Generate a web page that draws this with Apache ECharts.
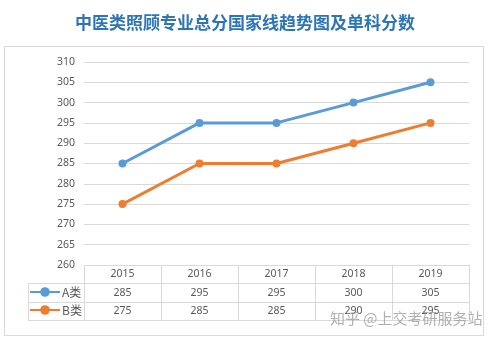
<!DOCTYPE html>
<html>
<head>
<meta charset="utf-8">
<script src="https://cdn.jsdelivr.net/npm/echarts@6/dist/echarts.min.js"></script>
<style>
  html, body { margin: 0; padding: 0; background: #fff; }
  #chart { width: 490px; height: 338px; }
</style>
</head>
<body>
<div id="chart"></div>
<script>
// Score lines by year
const years = ['2015', '2016', '2017', '2018', '2019'];
const seriesA = [285, 295, 295, 300, 305];
const seriesB = [275, 285, 285, 290, 295];
const nameA = 'A类';
const nameB = 'B类';
const titleText = '中医类照顾专业总分国家线趋势图及单科分数';
const watermark = '知乎 @上交考研服务站';

const gridColor = '#d9d9d9';
const textColor = '#595959';
const blue = '#5B9BD5';
const orange = '#ED7D31';

const chart = echarts.init(document.getElementById('chart'), null, { renderer: 'canvas' });

const gridLeft = 84, gridRight = 469, gridTop = 62, gridBottom = 265;
const rowA = 283, rowB = 302, rowEnd = 320, legendLeft = 28;

const option = {
  animation: false,
  backgroundColor: '#fff',
  title: {
    text: titleText,
    left: 'center',
    top: 9,
    textStyle: { color: '#2E75B6', fontSize: 17, fontWeight: 'bold', fontFamily: 'Noto Sans CJK SC' }
  },
  grid: { left: gridLeft, right: 490 - gridRight, top: gridTop, bottom: 338 - gridBottom, containLabel: false },
  legend: {
    orient: 'vertical',
    left: legendLeft + 1,
    top: rowA + 3,
    padding: 0,
    itemGap: 6,
    itemWidth: 30,
    itemHeight: 12,
    textStyle: { color: textColor, fontSize: 12, fontFamily: 'Noto Sans CJK SC', padding: [0, 0, 0, -3] },
    data: [nameA, nameB]
  },
  xAxis: {
    type: 'category',
    data: years,
    boundaryGap: true,
    axisLine: { show: true, lineStyle: { color: gridColor } },
    axisTick: { show: true, length: rowEnd - gridBottom, lineStyle: { color: gridColor } },
    axisLabel: {
      margin: 0,
      interval: 0,
      formatter: function (v, i) {
        return '{y|' + v + '}\n{a|' + seriesA[i] + '}\n{b|' + seriesB[i] + '}';
      },
      rich: {
        y: { color: textColor, fontSize: 10.5, lineHeight: 18.5, fontFamily: 'Noto Sans' },
        a: { color: textColor, fontSize: 10.5, lineHeight: 18.5, fontFamily: 'Noto Sans' },
        b: { color: textColor, fontSize: 10.5, lineHeight: 18.5, fontFamily: 'Noto Sans' }
      }
    }
  },
  yAxis: {
    type: 'value',
    min: 260,
    max: 310,
    interval: 5,
    axisLine: { show: false },
    axisTick: { show: false },
    axisLabel: { color: textColor, fontSize: 10.5, margin: 9, fontFamily: 'Noto Sans' },
    splitLine: { lineStyle: { color: gridColor } }
  },
  series: [
    {
      name: nameA, type: 'line', data: seriesA,
      symbol: 'circle', symbolSize: 8,
      lineStyle: { color: blue, width: 3 },
      itemStyle: { color: blue }
    },
    {
      name: nameB, type: 'line', data: seriesB,
      symbol: 'circle', symbolSize: 8,
      lineStyle: { color: orange, width: 3 },
      itemStyle: { color: orange }
    }
  ],
  graphic: [
    // outer frame
    { type: 'rect', shape: { x: 4.5, y: 46.5, width: 479, height: 289 }, style: { fill: 'none', stroke: gridColor, lineWidth: 1 }, z: -1 },
    // data table rules
    { type: 'line', shape: { x1: legendLeft, y1: rowA + 0.5, x2: gridRight, y2: rowA + 0.5 }, style: { stroke: gridColor, lineWidth: 1 } },
    { type: 'line', shape: { x1: legendLeft, y1: rowB + 0.5, x2: gridRight, y2: rowB + 0.5 }, style: { stroke: gridColor, lineWidth: 1 } },
    { type: 'line', shape: { x1: legendLeft, y1: rowEnd + 0.5, x2: gridRight, y2: rowEnd + 0.5 }, style: { stroke: gridColor, lineWidth: 1 } },
    { type: 'line', shape: { x1: legendLeft + 0.5, y1: rowA, x2: legendLeft + 0.5, y2: rowEnd }, style: { stroke: gridColor, lineWidth: 1 } },
    // watermark
    { type: 'text', left: 330, top: 311, z: 100,
      style: { text: watermark, fill: 'rgba(150,150,150,0.75)', fontSize: 15, fontFamily: 'Noto Sans CJK SC' } }
  ]
};

chart.setOption(option);
</script>
</body>
</html>
